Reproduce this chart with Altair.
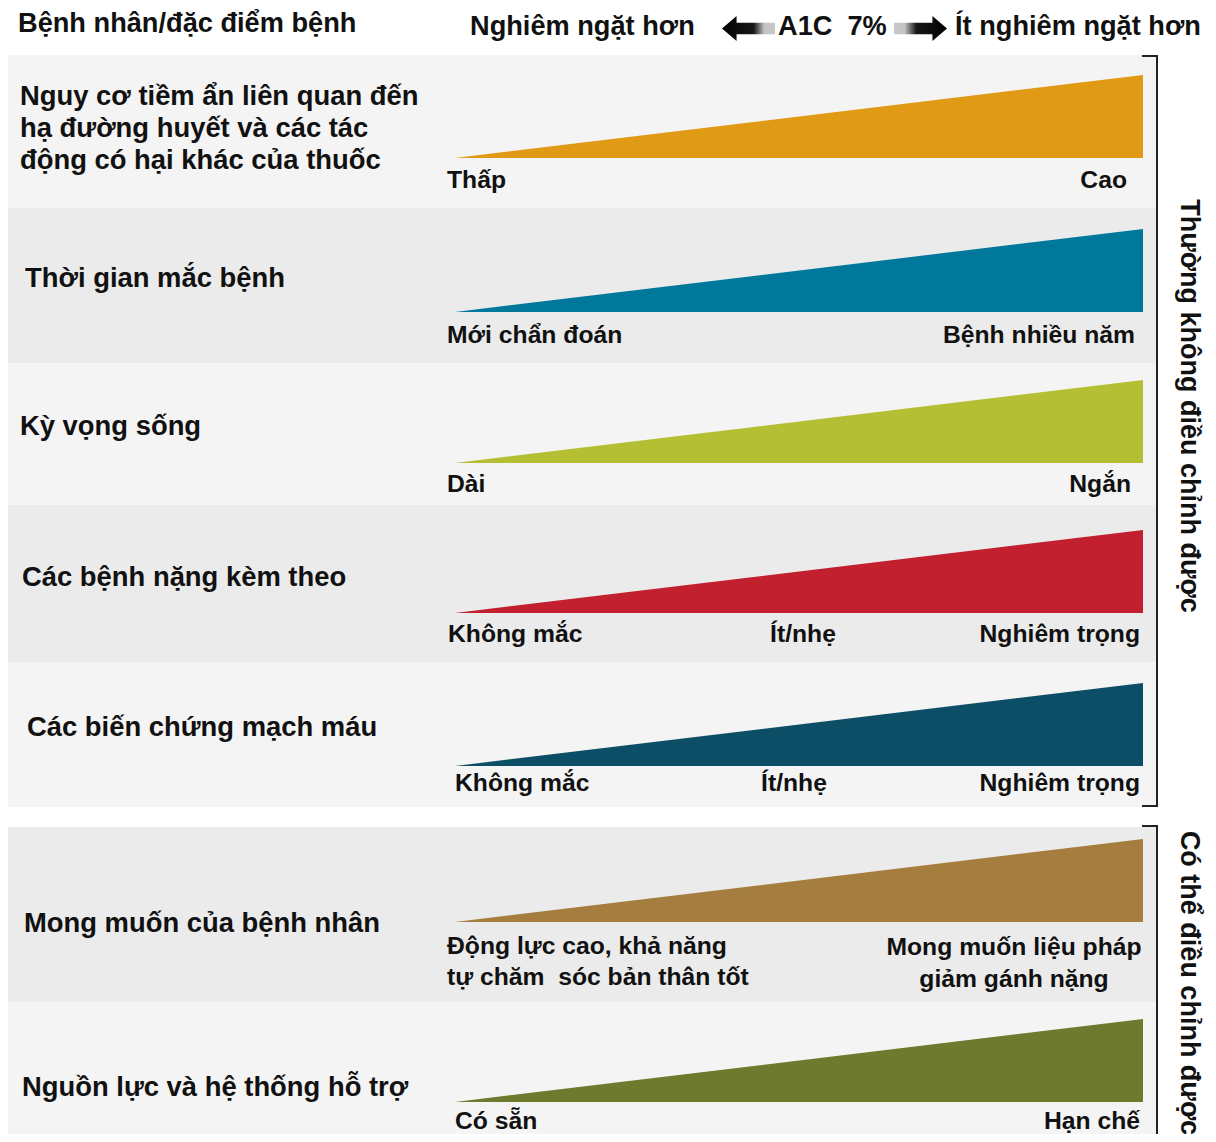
import altair as alt
import pandas as pd

# ---------------- data ----------------
COL_HEADER = "Bệnh nhân/đặc điểm bệnh"
AXIS_LEFT = "Nghiêm ngặt hơn"
AXIS_MID = "A1C\u00a0 7%"
AXIS_RIGHT = "Ít nghiêm ngặt hơn"

ROW_LABELS = [
    ["Nguy cơ tiềm ẩn liên quan đến", "hạ đường huyết và các tác", "động có hại khác của thuốc"],
    ["Thời gian mắc bệnh"],
    ["Kỳ vọng sống"],
    ["Các bệnh nặng kèm theo"],
    ["Các biến chứng mạch máu"],
    ["Mong muốn của bệnh nhân"],
    ["Nguồn lực và hệ thống hỗ trợ"],
]
LOW_LABELS = [
    ["Thấp"], ["Mới chẩn đoán"], ["Dài"], ["Không mắc"], ["Không mắc"],
    ["Động lực cao, khả năng", "tự chăm\u00a0 sóc bản thân tốt"], ["Có sẵn"],
]
MID_LABELS = ["", "", "", "Ít/nhẹ", "Ít/nhẹ", "", ""]
HIGH_LABELS = [
    ["Cao"], ["Bệnh nhiều năm"], ["Ngắn"], ["Nghiêm trọng"], ["Nghiêm trọng"],
    ["Mong muốn liệu pháp", "giảm gánh nặng"], ["Hạn chế"],
]
WEDGE_COLORS = ["#e09a16", "#00789b", "#b5bf33", "#c21f2f", "#0d4e67", "#a57e3f", "#6e7a2e"]
BAND_COLORS = ["#f4f4f4", "#ebebeb", "#f4f4f4", "#ebebeb", "#f4f4f4", "#ebebeb", "#f4f4f4"]
GROUP_NAMES = ["Thường không điều chỉnh được", "Có thể điều chỉnh được"]
WEDGE_LEVEL = [0, 1]      # stringency: left end (more stringent) -> right end (less stringent)
WEDGE_HEIGHT = [0, 1]     # relative wedge height at those ends

# ---------------- layout (page pixels) ----------------
W, H = 1200, 1126
PAGE = 8
TRI_X0, TRI_X1 = 455, 1143
TRI_H = 83
ROW_TOP = [55, 208, 363, 505, 662, 827, 1002]
ROW_BOT = [208, 363, 505, 662, 807, 1002, 1142]
TRI_BASE = [158, 312, 463, 613, 766, 922, 1102]
ROW_LABEL_X = [20, 25, 20, 22, 27, 24, 22]
ROW_LABEL_Y = [97, 279, 427, 578, 728, 924, 1088]     # first line centre
LOW_Y = [181, 336, 485, 635, 784, 947, 1122]
HIGH_Y = [181, 336, 485, 635, 784, 948, 1122]
LOW_X = [447, 447, 447, 448, 455, 447, 455]
MID_X = [0, 0, 0, 803, 794, 0, 0]
HIGH_X = [1127, 1135, 1131, 1140, 1140, 1014, 1140]
BAND_X0, BAND_X1 = 8, 1157
BRACKET_X = 1157
BRACKET_TICK = 1142
GROUP_TOP = [56, 826]
GROUP_BOT = [806, 1142]
GROUP_TEXT_X = 1189
GROUP_TEXT_Y = [406, 983]
ARROW_Y = 28.5
ARROW_LEN = 53
ARROW_L_X, ARROW_R_X = 748.5, 920.5


def sx(px):
    return (px - TRI_X0) / (TRI_X1 - TRI_X0)


xs = alt.Scale(domain=[sx(PAGE), sx(PAGE + W)], nice=False, zero=False)
ys = alt.Scale(domain=[PAGE, PAGE + H], reverse=True, nice=False, zero=False)
FONT = "Liberation Sans"
INK = "#111111"

n = len(ROW_LABELS)

bands = pd.DataFrame({
    "row": list(range(n)),
    "x0": [sx(BAND_X0)] * n, "x1": [sx(BAND_X1)] * n,
    "top": ROW_TOP, "bot": ROW_BOT, "fill": BAND_COLORS,
})
band_layer = alt.Chart(bands).mark_rect().encode(
    x=alt.X("x0:Q", scale=xs, axis=None), x2="x1:Q",
    y=alt.Y("top:Q", scale=ys, axis=None), y2="bot:Q",
    fill=alt.Fill("fill:N", scale=None),
)

wedge_rows = []
for i in range(n):
    for lvl, hgt in zip(WEDGE_LEVEL, WEDGE_HEIGHT):
        wedge_rows.append({"row": i, "s": lvl, "top": TRI_BASE[i] - hgt * TRI_H,
                           "base": TRI_BASE[i], "fill": WEDGE_COLORS[i]})
wedges = pd.DataFrame(wedge_rows)
wedge_layer = alt.Chart(wedges).mark_area(opacity=1).encode(
    x=alt.X("s:Q", scale=xs, axis=None),
    y=alt.Y("top:Q", scale=ys, axis=None, stack=False), y2="base:Q",
    fill=alt.Fill("fill:N", scale=None),
    detail="row:N",
)


def text_layer(df, align, size, line_height=32, angle=0):
    return alt.Chart(df).mark_text(
        align=align, baseline="middle", font=FONT, fontWeight="bold",
        fontSize=size, lineHeight=line_height, color=INK, angle=angle,
    ).encode(
        x=alt.X("x:Q", scale=xs, axis=None),
        y=alt.Y("y:Q", scale=ys, axis=None),
        text="t",
    )


row_text = pd.DataFrame({"x": [sx(v) for v in ROW_LABEL_X], "y": ROW_LABEL_Y, "t": ROW_LABELS})
low_text = pd.DataFrame({"x": [sx(v) for v in LOW_X], "y": LOW_Y, "t": LOW_LABELS})
mid_text = pd.DataFrame({"x": [sx(v) for v in MID_X], "y": LOW_Y, "t": MID_LABELS})
mid_text = mid_text[mid_text["t"] != ""]
high_df = pd.DataFrame({"x": [sx(v) for v in HIGH_X], "y": HIGH_Y, "t": HIGH_LABELS,
                        "multi": [len(t) > 1 for t in HIGH_LABELS]})
high_right = high_df[~high_df["multi"]][["x", "y", "t"]]
high_center = high_df[high_df["multi"]][["x", "y", "t"]]

header = pd.DataFrame({
    "x": [sx(18), sx(470), sx(778), sx(955)],
    "y": [24, 27, 27, 27],
    "t": [COL_HEADER, AXIS_LEFT, AXIS_MID, AXIS_RIGHT],
})

group_text = pd.DataFrame({"x": [sx(GROUP_TEXT_X)] * 2, "y": GROUP_TEXT_Y, "t": GROUP_NAMES})

# arrows (custom symbol paths in the unit square)
LEFT_ARROW = "M -1 0 L -0.45 -0.47 L -0.45 -0.22 L 1 -0.22 L 1 0.22 L -0.45 0.22 L -0.45 0.47 Z"
RIGHT_ARROW = "M 1 0 L 0.45 -0.47 L 0.45 -0.22 L -1 -0.22 L -1 0.22 L 0.45 0.22 L 0.45 0.47 Z"
arrows_l = pd.DataFrame({"x": [sx(ARROW_L_X)], "y": [ARROW_Y]})
arrows_r = pd.DataFrame({"x": [sx(ARROW_R_X)], "y": [ARROW_Y]})
grad_l = alt.Gradient(gradient="linear", x1=0, x2=1, y1=0, y2=0, stops=[
    alt.GradientStop(color="#000000", offset=0),
    alt.GradientStop(color="#181818", offset=0.6),
    alt.GradientStop(color="#c4c4c4", offset=0.8),
    alt.GradientStop(color="#c8c8c8", offset=1)])
grad_r = alt.Gradient(gradient="linear", x1=0, x2=1, y1=0, y2=0, stops=[
    alt.GradientStop(color="#c8c8c8", offset=0),
    alt.GradientStop(color="#c4c4c4", offset=0.2),
    alt.GradientStop(color="#181818", offset=0.42),
    alt.GradientStop(color="#000000", offset=1)])
arrow_l_layer = alt.Chart(arrows_l).mark_point(
    shape=LEFT_ARROW, size=ARROW_LEN ** 2, filled=True, fill=grad_l, opacity=1, strokeWidth=0,
).encode(x=alt.X("x:Q", scale=xs, axis=None), y=alt.Y("y:Q", scale=ys, axis=None))
arrow_r_layer = alt.Chart(arrows_r).mark_point(
    shape=RIGHT_ARROW, size=ARROW_LEN ** 2, filled=True, fill=grad_r, opacity=1, strokeWidth=0,
).encode(x=alt.X("x:Q", scale=xs, axis=None), y=alt.Y("y:Q", scale=ys, axis=None))

# brackets
vert = pd.DataFrame({"x": [sx(BRACKET_X)] * 2, "y1": GROUP_TOP, "y2": GROUP_BOT})
ticks = pd.DataFrame({
    "x0": [sx(BRACKET_TICK)] * 3, "x1": [sx(BRACKET_X + 1)] * 3,
    "y": [GROUP_TOP[0], GROUP_BOT[0], GROUP_TOP[1]],
})
vert_layer = alt.Chart(vert).mark_rule(color="#222222", strokeWidth=2).encode(
    x=alt.X("x:Q", scale=xs, axis=None),
    y=alt.Y("y1:Q", scale=ys, axis=None), y2="y2:Q",
)
tick_layer = alt.Chart(ticks).mark_rule(color="#222222", strokeWidth=2).encode(
    x=alt.X("x0:Q", scale=xs, axis=None), x2="x1:Q",
    y=alt.Y("y:Q", scale=ys, axis=None),
)

chart = alt.layer(
    band_layer,
    wedge_layer,
    text_layer(row_text, "left", 27.4),
    text_layer(low_text, "left", 24.7, 31),
    text_layer(mid_text, "center", 24.7),
    text_layer(high_right, "right", 24.7),
    text_layer(high_center, "center", 24.7, 32),
    text_layer(header, "left", 27.2),
    arrow_l_layer,
    arrow_r_layer,
    vert_layer,
    tick_layer,
    text_layer(group_text, "center", 27, angle=90),
).properties(
    width=W, height=H, autosize=alt.AutoSizeParams(type="none"), padding=0,
    background="white",
).configure_view(stroke=None)

chart.save("out.html", embed_options={"renderer": "svg", "actions": False})
